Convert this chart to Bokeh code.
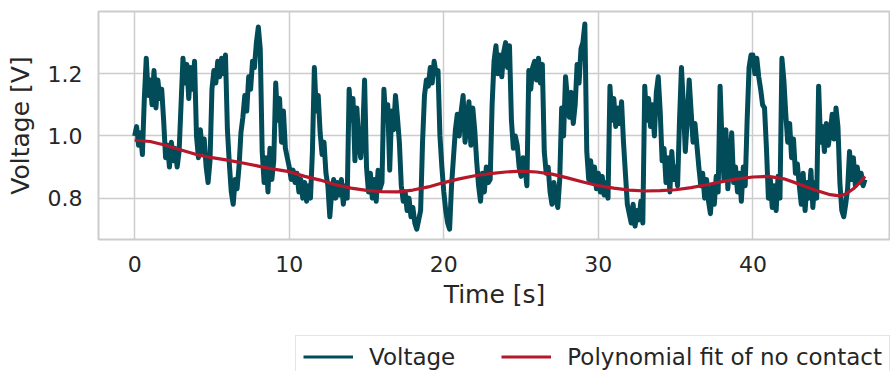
import numpy as np
from bokeh.plotting import figure
from bokeh.layouts import column
from bokeh.models import Legend, LegendItem, FixedTicker, Range1d, ColumnDataSource
from bokeh.embed import file_html
from bokeh.resources import INLINE

# ---- data ----
SAMPLE_DT = 0.125  # seconds between samples
voltage = [
    1.00, 1.03, 0.97, 1.01, 0.94, 1.12, 1.25, 1.13,
    1.18, 1.10, 1.21, 1.09, 1.18, 1.12, 1.15, 1.05,
    0.93, 0.97, 0.90, 0.98, 0.92, 0.96, 0.90, 0.95,
    1.10, 1.25, 1.17, 1.23, 1.12, 1.22, 1.15, 1.24,
    1.00, 0.93, 1.02, 0.95, 0.99, 0.90, 0.85, 0.92,
    1.15, 1.21, 1.17, 1.24, 1.19, 1.25, 1.20, 1.26,
    1.02, 0.91, 0.82, 0.78, 0.86, 0.83, 0.90, 1.01,
    1.06, 1.13, 1.08, 1.19, 1.15, 1.24, 1.22, 1.30,
    1.35, 1.28, 0.95, 0.85, 0.93, 0.82, 0.96, 0.86,
    0.92, 1.17, 1.05, 1.12, 0.98, 1.08, 0.96, 0.93,
    0.90, 0.86, 0.89, 0.85, 0.88, 0.82, 0.86, 0.80,
    0.85, 0.79, 0.84, 0.80, 0.95, 1.22, 1.08, 1.13,
    1.01, 0.94, 0.98, 0.88, 0.84, 0.74, 0.82, 0.86,
    0.80, 0.85, 0.81, 0.86, 0.78, 0.84, 0.80, 1.15,
    1.05, 1.12, 0.92, 1.09, 0.98, 0.93, 1.00, 1.18,
    0.90, 0.82, 0.88, 0.80, 0.86, 0.79, 0.89, 0.83,
    0.85, 1.15, 1.05, 1.10, 0.89, 1.08, 1.02, 1.13,
    1.06, 0.98, 0.84, 0.79, 0.82, 0.76, 0.80, 0.74,
    0.77, 0.72, 0.70, 0.73, 0.76, 0.98, 1.13, 1.18,
    1.16, 1.22, 1.17, 1.24, 1.20, 1.21, 1.00, 0.90,
    0.82, 0.76, 0.72, 0.70, 0.84, 0.93, 1.02, 1.07,
    1.00, 1.08, 1.13, 0.98, 1.04, 1.11, 0.97, 1.09,
    1.02, 0.92, 0.84, 0.79, 0.88, 0.82, 0.90, 0.85,
    0.86, 1.10, 1.24, 1.29, 1.20, 1.26, 1.19, 1.27,
    1.30, 1.22, 1.29, 1.05, 0.96, 1.00, 0.97, 0.90,
    0.87, 0.93, 0.90, 0.84, 1.21, 1.15, 1.22, 1.24,
    1.18, 1.25, 1.17, 1.23, 0.95, 0.88, 0.90, 0.82,
    0.78, 0.85, 0.80, 0.77, 0.86, 1.09, 1.00, 1.19,
    1.12, 1.06, 1.14, 1.04, 1.10, 1.23, 1.17, 1.28,
    1.30, 1.36, 0.95, 0.86, 0.92, 0.85, 0.90, 0.83,
    0.88, 0.82, 0.87, 0.81, 0.85, 0.80, 1.16, 1.05,
    1.12, 1.03, 1.09, 1.04, 1.11, 0.98, 0.88, 0.78,
    0.75, 0.72, 0.78, 0.71, 0.76, 0.73, 0.79, 0.72,
    1.16, 1.05, 1.12, 1.03, 1.10, 1.00, 1.14, 1.19,
    1.08, 0.92, 0.96, 0.85, 0.93, 0.82, 0.95, 0.86,
    0.90, 0.84, 1.05, 1.22, 1.10, 0.95, 1.05, 1.18,
    1.08, 0.98, 1.04, 0.97, 0.90, 0.84, 0.88, 0.80,
    0.86, 0.79, 0.75, 0.84, 0.78, 0.87, 0.82, 1.16,
    0.98, 0.86, 1.02, 0.83, 0.92, 1.01, 0.85, 0.90,
    0.82, 0.88, 0.79, 0.90, 0.84, 1.05, 1.22, 1.26,
    1.26, 1.20, 1.25, 1.19, 1.15, 1.10, 1.09, 0.96,
    0.80, 0.86, 0.77, 0.84, 0.76, 0.87, 0.80, 1.25,
    1.18, 1.07, 0.98, 1.04, 0.93, 0.99, 0.88, 0.91,
    0.84, 0.78, 0.88, 0.76, 0.85, 0.80, 0.89, 0.77,
    0.85, 0.80, 1.16, 0.98, 1.03, 0.95, 1.04, 0.97,
    1.01, 1.07, 0.99, 1.09, 1.03, 0.85, 0.76, 0.74,
    0.78, 0.83, 0.95, 0.86, 0.93, 0.84, 0.90, 0.85,
    0.88, 0.84, 0.86,
]
time = np.arange(len(voltage)) * SAMPLE_DT

fit_time = [0, 1, 2, 3, 4, 5, 6, 7, 8, 9, 10, 11, 12, 13, 14, 15, 16, 17, 18, 19,
            20, 21, 22, 23, 24, 25, 26, 27, 28, 29, 30, 31, 32, 33, 34, 35, 36, 37,
            38, 39, 40, 41, 42, 43, 44, 45, 45.6, 46, 46.5, 47, 47.25]
fit_voltage = [0.986, 0.982, 0.970, 0.955, 0.940, 0.930, 0.922, 0.913, 0.903, 0.893,
               0.885, 0.870, 0.858, 0.843, 0.832, 0.825, 0.821, 0.820, 0.826, 0.836,
               0.850, 0.862, 0.872, 0.879, 0.884, 0.887, 0.884, 0.877, 0.865, 0.852,
               0.840, 0.832, 0.826, 0.823, 0.824, 0.827, 0.834, 0.843, 0.853, 0.862,
               0.868, 0.870, 0.862, 0.845, 0.826, 0.811, 0.807, 0.813, 0.830, 0.855,
               0.870]

x_ticks = [0, 10, 20, 30, 40]
y_ticks = [0.8, 1.0, 1.2]

series_labels = ["Voltage", "Polynomial fit of no contact"]
series_colors = ["#024b59", "#b5172b"]

FONT = "DejaVu Sans"
TEXT_COLOR = "#262626"
GRID_COLOR = "#cccccc"

# ---------------- main chart ----------------
p = figure(width=890, height=329,
           x_range=Range1d(-2.34, 48.9), y_range=Range1d(0.667, 1.400),
           output_backend="svg", toolbar_location=None,
           min_border_left=98, min_border_right=0, min_border_top=11,
           min_border_bottom=90)

p.background_fill_color = "white"
p.border_fill_color = "white"
p.outline_line_color = GRID_COLOR
p.outline_line_width = 2

src_v = ColumnDataSource(dict(t=time, v=voltage))
src_f = ColumnDataSource(dict(t=fit_time, v=fit_voltage))

p.line("t", "v", source=src_v, line_color=series_colors[0], line_width=5,
       line_join="round")
p.line("t", "v", source=src_f, line_color=series_colors[1], line_width=3.2,
       line_join="round")

for ax in (p.xaxis[0], p.yaxis[0]):
    ax.axis_line_color = None
    ax.major_tick_line_color = None
    ax.minor_tick_line_color = None
    ax.major_tick_out = 0
    ax.major_tick_in = 0
    ax.major_label_text_font = FONT
    ax.major_label_text_font_size = "22px"
    ax.major_label_text_color = TEXT_COLOR
    ax.axis_label_text_font = FONT
    ax.axis_label_text_font_size = "25px"
    ax.axis_label_text_font_style = "normal"
    ax.axis_label_text_color = TEXT_COLOR

p.xaxis.ticker = FixedTicker(ticks=x_ticks)
p.yaxis.ticker = FixedTicker(ticks=y_ticks)
p.xaxis.axis_label = "Time [s]"
p.yaxis.axis_label = "Voltage [V]"
p.xaxis.major_label_standoff = 16
p.xaxis.axis_label_standoff = 5
p.yaxis.major_label_standoff = 16
p.yaxis.axis_label_standoff = 10
p.yaxis.major_label_overrides = {0.8: "0.8", 1.0: "1.0", 1.2: "1.2"}

p.xgrid.ticker = FixedTicker(ticks=x_ticks)
p.ygrid.ticker = FixedTicker(ticks=y_ticks)
for g in (p.xgrid[0], p.ygrid[0]):
    g.grid_line_color = GRID_COLOR
    g.grid_line_width = 1.5

# ---------------- legend strip below the chart ----------------
# (its frame is aligned with the chart's frame by the column layout)
leg = figure(width=890, height=42, x_range=Range1d(0, 1), y_range=Range1d(0, 1),
             output_backend="svg", toolbar_location=None,
             x_axis_location=None, y_axis_location=None, min_border=0)
leg.outline_line_color = None
leg.grid.visible = False
leg.background_fill_color = "white"
leg.border_fill_color = "white"

# key renderers for the legend (kept outside the visible range of this strip)
key_v = leg.line(x=[-5, -4], y=[-5, -4], line_color=series_colors[0], line_width=3.2)
key_f = leg.line(x=[-5, -4], y=[-5, -4], line_color=series_colors[1], line_width=3.2)

legend = Legend(
    items=[LegendItem(label=series_labels[0], renderers=[key_v]),
           LegendItem(label=series_labels[1], renderers=[key_f])],
    orientation="horizontal",
    location=(197, -7),
    label_text_font=FONT, label_text_font_size="23px", label_text_color=TEXT_COLOR,
    glyph_width=50, glyph_height=27, label_standoff=16, spacing=46,
    padding=7, margin=0,
    border_line_color=GRID_COLOR, border_line_width=1.5,
    background_fill_color="white", background_fill_alpha=1.0,
)
leg.add_layout(legend)

page = column(p, leg, spacing=0)

open("out.html", "w").write(file_html(page, INLINE))
